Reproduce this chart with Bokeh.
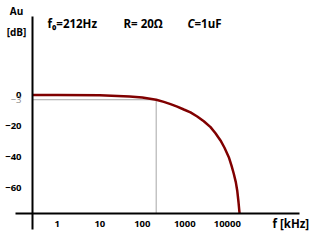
from bokeh.plotting import figure
from bokeh.models import LogAxis, LinearAxis, FixedTicker, PrintfTickFormatter, Label, Range1d
from bokeh.embed import file_html
from bokeh.resources import INLINE

# ---- data ----
f_curve = [0.26, 1, 10, 50, 100, 212, 321, 461, 662, 947, 1361, 1959, 2800,
           4030, 5270, 6920, 8590, 10850, 12560, 14200, 15850, 17100, 18360, 19400]
db_curve = [0, 0, -0.1, -0.9, -1.6, -3, -4.4, -5.8, -7.4, -9.3, -11.2, -13.8, -16.9,
            -20.7, -24.6, -29.3, -34.0, -40.1, -45.5, -50.8, -56.2, -61.6, -69.2, -76.3]
x_ticks = [1, 10, 100, 1000, 10000]
y_ticks = [0, -20, -40, -60]
f0 = 212
db_cut = -3
Y_AXIS_AT_F = 0.261
X_AXIS_AT_DB = -76.3
X_AXIS_BOUNDS = (0.1038, 500000)
Y_AXIS_BOUNDS = (-86.8, 50.8)

FONT = "Open Sans"

p = figure(width=330, height=245, x_axis_type="log",
           x_range=Range1d(0.04606, 2.68e6), y_range=Range1d(-97.13, 61.09),
           x_axis_location=None, y_axis_location=None,
           output_backend="svg", toolbar_location=None,
           min_border_left=0, min_border_right=0, min_border_top=0, min_border_bottom=0)
p.outline_line_color = None
p.background_fill_color = "white"
p.border_fill_color = "white"
p.xgrid.visible = False
p.ygrid.visible = False

def style(ax, color="black", bold=True):
    ax.major_tick_line_color = None
    ax.minor_tick_line_color = None
    ax.major_label_text_font = FONT
    ax.major_label_text_font_style = "bold" if bold else "normal"
    ax.major_label_text_font_size = "9.5px"
    ax.major_label_text_color = color
    ax.axis_line_width = 2
    ax.axis_line_color = "black"

xax = LogAxis(fixed_location=X_AXIS_AT_DB, ticker=FixedTicker(ticks=x_ticks),
              formatter=PrintfTickFormatter(format="%d"), bounds=X_AXIS_BOUNDS)
style(xax)
xax.major_label_standoff = 2
p.add_layout(xax, "below")

yax = LinearAxis(fixed_location=Y_AXIS_AT_F, ticker=FixedTicker(ticks=y_ticks),
                 bounds=Y_AXIS_BOUNDS)
style(yax)
yax.major_label_standoff = 5
p.add_layout(yax, "left")

yax3 = LinearAxis(fixed_location=Y_AXIS_AT_F, ticker=FixedTicker(ticks=[db_cut]))
style(yax3, color="#8c8c8c", bold=False)
yax3.axis_line_color = None
yax3.major_label_standoff = 5
yax3.major_label_text_baseline = "top"
p.add_layout(yax3, "left")

# reference lines at the cutoff
p.line([Y_AXIS_AT_F, f0], [db_cut, db_cut], line_color="#a6a6a6", line_width=1)
p.line([f0, f0], [db_cut, X_AXIS_AT_DB], line_color="#a6a6a6", line_width=1)

# response curve
p.line(f_curve, db_curve, line_color="#800000", line_width=2.5)

def lab(x, y, text, size="11.5px", style="bold", color="black", align="left"):
    p.add_layout(Label(x=x, y=y, x_units="screen", y_units="screen", text=text,
                       text_font=FONT, text_font_size=size, text_font_style=style,
                       text_color=color, text_align=align, text_baseline="middle"))

lab(16, 235, "Au", size="10px", align="center")
lab(16, 214, "[dB]", size="10px", align="center")
lab(47, 222, "f\u2080=212Hz")
lab(123, 222, "R= 20\u03a9")
lab(187, 222, "C", style="bold italic")
lab(194, 222, "=1uF")
lab(272, 22, "f  [kHz]", size="11.5px")

open("out.html", "w").write(file_html(p, INLINE))
